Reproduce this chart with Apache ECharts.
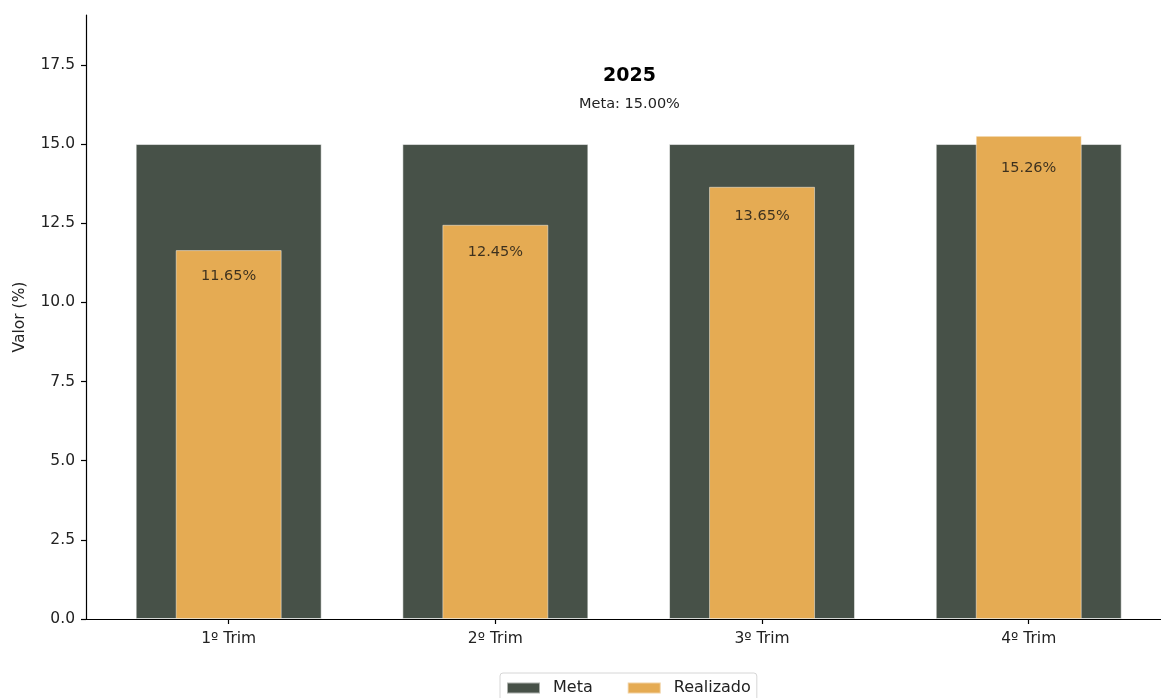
<!DOCTYPE html>
<html>
<head>
<meta charset="utf-8">
<script src="https://cdn.jsdelivr.net/npm/echarts@6/dist/echarts.min.js"></script>
<style>
html,body{margin:0;padding:0;background:#fff;overflow:hidden;}
#chart{width:1161px;height:698px;}
</style>
</head>
<body>
<div id="chart"></div>
<script>
const categories = ['1º Trim', '2º Trim', '3º Trim', '4º Trim'];
const metaValues = [15.0, 15.0, 15.0, 15.0];
const realizadoValues = [11.65, 12.45, 13.65, 15.26];
const yTicks = [0, 2.5, 5, 7.5, 10, 12.5, 15, 17.5];
const titleText = '2025';
const subtitleText = 'Meta: 15.00%';

const FONT = 'DejaVu Sans';
const positions = categories.map((c, i) => i);
const yMax = Math.max(...realizadoValues, ...metaValues) * 1.25;

const chart = echarts.init(document.getElementById('chart'), null, {renderer: 'canvas'});

const xCommon = {
  type: 'value',
  min: -0.535,
  max: 3.496,
  splitLine: {show: false}
};

chart.setOption({
  animation: false,
  backgroundColor: '#ffffff',
  textStyle: {fontFamily: FONT},
  title: {
    text: titleText,
    subtext: subtitleText,
    left: 624.5,
    top: 62,
    textAlign: 'center',
    itemGap: 11,
    textStyle: {fontFamily: FONT, fontSize: 19, fontWeight: 'bold', color: '#000'},
    subtextStyle: {fontFamily: FONT, fontSize: 14.5, color: '#222'}
  },
  legend: {
    data: ['Meta', 'Realizado'],
    left: 500,
    top: 673,
    icon: 'rect',
    padding: [7, 6, 7, 6],
    itemWidth: 33,
    itemHeight: 11,
    itemGap: 34,
    borderColor: '#d6d6d6',
    borderWidth: 1,
    borderRadius: 3,
    textStyle: {fontFamily: FONT, fontSize: 16, color: '#222', padding: [0, 0, 0, 8]}
  },
  grid: {left: 86, top: 15, right: 0, bottom: 79, containLabel: false},
  xAxis: [
    Object.assign({}, xCommon, {
      position: 'bottom',
      axisLine: {show: true, onZero: false, lineStyle: {color: '#000', width: 1.2}},
      axisTick: {show: true, customValues: positions, length: 5, lineStyle: {color: '#000', width: 1.2}},
      axisLabel: {
        show: true,
        customValues: positions,
        margin: 12,
        fontFamily: FONT,
        fontSize: 15.5,
        color: '#222',
        formatter: v => categories[Math.round(v)]
      }
    }),
    Object.assign({}, xCommon, {
      show: false
    })
  ],
  yAxis: {
    type: 'value',
    min: 0,
    max: yMax,
    interval: 2.5,
    name: 'Valor (%)',
    nameLocation: 'middle',
    nameGap: 58,
    nameRotate: 90,
    nameTextStyle: {fontFamily: FONT, fontSize: 15.5, color: '#222'},
    axisLine: {show: true, onZero: false, lineStyle: {color: '#000', width: 1.2}},
    axisTick: {show: true, length: 5, lineStyle: {color: '#000', width: 1.2}},
    axisLabel: {
      margin: 11,
      fontFamily: FONT,
      fontSize: 15.5,
      color: '#222',
      showMaxLabel: false,
      formatter: v => (yTicks.indexOf(v) >= 0 ? v.toFixed(1) : '')
    },
    splitLine: {show: false}
  },
  series: [
    {
      name: 'Meta',
      type: 'bar',
      xAxisIndex: 1,
      barWidth: 186,
      data: metaValues.map((v, i) => [positions[i], v]),
      itemStyle: {color: '#475148', borderColor: 'rgba(255,255,255,0.55)', borderWidth: 1},
      z: 2
    },
    {
      name: 'Realizado',
      type: 'bar',
      xAxisIndex: 0,
      barWidth: 106,
      data: realizadoValues.map((v, i) => [positions[i], v]),
      itemStyle: {color: '#E5AB53', borderColor: 'rgba(255,255,255,0.45)', borderWidth: 1},
      z: 3
    },
    {
      name: 'labels',
      type: 'scatter',
      xAxisIndex: 0,
      symbolSize: 0,
      silent: true,
      data: realizadoValues.map((v, i) => [positions[i], v * 0.95, v]),
      label: {
        show: true,
        position: 'inside',
        offset: [0, 8],
        fontFamily: FONT,
        fontSize: 14.5,
        color: '#111',
        formatter: p => p.data[2].toFixed(2) + '%'
      },
      z: 5
    }
  ]
});
</script>
</body>
</html>
